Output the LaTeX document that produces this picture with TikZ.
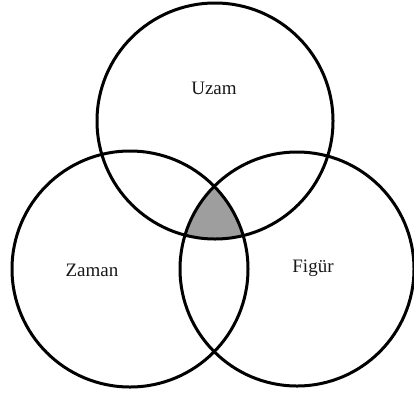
\documentclass[tikz,border=0pt]{standalone}
\usepackage{fontspec}
\setmainfont{Liberation Serif}
\begin{document}
\begin{tikzpicture}[x=1pt,y=-1pt,
  ring/.style={circle,draw=black,line width=3pt,inner sep=0pt,minimum size=236pt},
  lbl/.style={font=\fontsize{19}{21}\selectfont,text=black!90}]
\useasboundingbox (0,0) rectangle (414,394);
\begin{scope}
  \clip (215,121) circle (118);
  \clip (130,269) circle (118);
  \fill[black!38] (297,269) circle (117);
\end{scope}
\node[ring] (uzamc) at (215,121) {};
\node[ring] (zamanc) at (130,269) {};
\node[ring,minimum size=234pt] (figurc) at (297,269) {};
\node[lbl] (uzam) at (214,88) {Uzam};
\node[lbl] (zaman) at (92,270) {Zaman};
\node[lbl] (figur) at (313,268) {Figür};
\end{tikzpicture}
\end{document}
